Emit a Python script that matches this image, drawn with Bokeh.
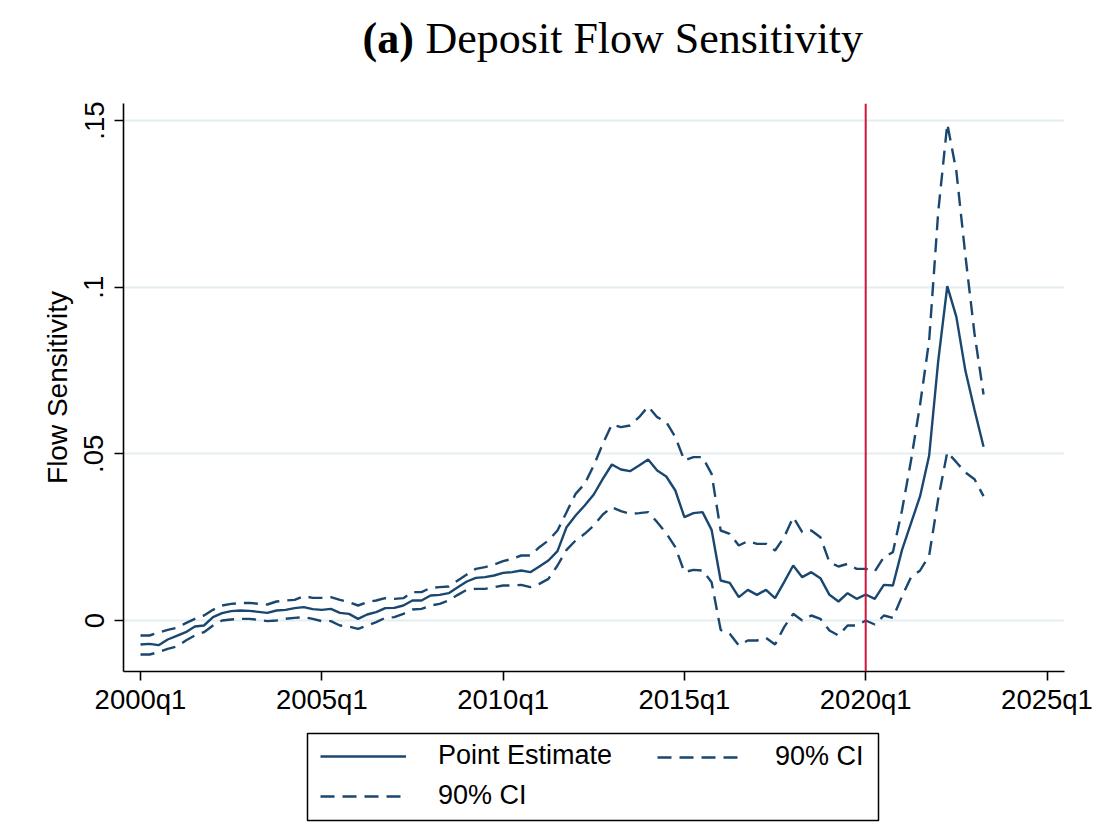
from bokeh.plotting import figure
from bokeh.models import Range1d, Span, Legend, LegendItem, ColumnDataSource, BoxAnnotation
from bokeh.layouts import column
from bokeh.core.properties import value
from bokeh.embed import file_html
from bokeh.resources import INLINE

# quarter index 0 = 2000q1 ... 93 = 2023q2
quarters = list(range(94))

point = [
    -0.0072, -0.0070, -0.0074, -0.0057, -0.0046, -0.0035, -0.0018, -0.0015, 0.0010, 0.0022,
    0.0028, 0.0030, 0.0029, 0.0026, 0.0023, 0.0030, 0.0032, 0.0037, 0.0040, 0.0034,
    0.0032, 0.0035, 0.0023, 0.0020, 0.0005, 0.0018, 0.0025, 0.0037, 0.0038, 0.0045,
    0.0060, 0.0060, 0.0075, 0.0077, 0.0082, 0.0100, 0.0117, 0.0128, 0.0130, 0.0135,
    0.0143, 0.0145, 0.0150, 0.0145, 0.0162, 0.0180, 0.0208, 0.0280, 0.0315, 0.0345,
    0.0378, 0.0425, 0.0468, 0.0453, 0.0448, 0.0465, 0.0483, 0.0450, 0.0432, 0.0390,
    0.0310, 0.0322, 0.0325, 0.0272, 0.0120, 0.0113, 0.0070, 0.0092, 0.0077, 0.0092,
    0.0067, 0.0115, 0.0165, 0.0130, 0.0145, 0.0127, 0.0077, 0.0057, 0.0082, 0.0065,
    0.0078, 0.0065, 0.0107, 0.0105, 0.0211, 0.0292, 0.0373, 0.0495, 0.0779, 0.1003,
    0.0911, 0.0749, 0.0632, 0.0521,
]

upper = [
    -0.0045, -0.0045, -0.0036, -0.0028, -0.0022, -0.0008, 0.0005, 0.0015, 0.0032, 0.0045,
    0.0050, 0.0052, 0.0053, 0.0050, 0.0048, 0.0057, 0.0060, 0.0062, 0.0073, 0.0068,
    0.0068, 0.0070, 0.0062, 0.0055, 0.0045, 0.0055, 0.0060, 0.0067, 0.0065, 0.0067,
    0.0085, 0.0085, 0.0098, 0.0100, 0.0102, 0.0120, 0.0138, 0.0155, 0.0160, 0.0168,
    0.0178, 0.0185, 0.0195, 0.0195, 0.0220, 0.0240, 0.0270, 0.0325, 0.0380, 0.0410,
    0.0465, 0.0530, 0.0588, 0.0580, 0.0585, 0.0610, 0.0642, 0.0610, 0.0595, 0.0550,
    0.0480, 0.0490, 0.0490, 0.0440, 0.0270, 0.0260, 0.0225, 0.0238, 0.0230, 0.0230,
    0.0210, 0.0250, 0.0310, 0.0265, 0.0270, 0.0250, 0.0175, 0.0162, 0.0170, 0.0155,
    0.0155, 0.0147, 0.0190, 0.0205, 0.0330, 0.0480, 0.0648, 0.0840, 0.1226, 0.1490,
    0.1348, 0.1094, 0.0861, 0.0678,
]

lower = [
    -0.0102, -0.0102, -0.0095, -0.0085, -0.0078, -0.0060, -0.0045, -0.0035, -0.0015, 0.0000,
    0.0003, 0.0005, 0.0005, 0.0002, -0.0002, 0.0000, 0.0005, 0.0008, 0.0010, 0.0005,
    -0.0002, -0.0002, -0.0015, -0.0018, -0.0025, -0.0015, -0.0005, 0.0008, 0.0010, 0.0020,
    0.0033, 0.0035, 0.0045, 0.0050, 0.0060, 0.0077, 0.0092, 0.0095, 0.0095, 0.0100,
    0.0105, 0.0105, 0.0107, 0.0100, 0.0110, 0.0125, 0.0165, 0.0212, 0.0240, 0.0260,
    0.0285, 0.0318, 0.0340, 0.0328, 0.0320, 0.0322, 0.0325, 0.0295, 0.0262, 0.0220,
    0.0145, 0.0152, 0.0150, 0.0115, -0.0028, -0.0040, -0.0075, -0.0060, -0.0060, -0.0052,
    -0.0072, -0.0020, 0.0020, 0.0000, 0.0015, 0.0005, -0.0030, -0.0045, -0.0015, -0.0015,
    0.0000, -0.0012, 0.0015, 0.0008, 0.0072, 0.0130, 0.0150, 0.0195, 0.0365, 0.0505,
    0.0475, 0.0444, 0.0424, 0.0373,
]

x_ticks = [0, 20, 40, 60, 80, 100]
x_tick_labels = ["2000q1", "2005q1", "2010q1", "2015q1", "2020q1", "2025q1"]
y_ticks = [0, 0.05, 0.1, 0.15]
y_tick_labels = ["0", ".05", ".1", ".15"]
event_quarter = 80  # 2020q1
title_prefix = "(a)"
title_text = "Deposit Flow Sensitivity"
legend_labels = ["Point Estimate", "90% CI", "90% CI"]

NAVY = "#1a476f"
RED = "#d0163a"
AX_FONT = "Liberation Sans"
W = 1120
LEFT, RIGHT = 123, 56
TITLE_H = 70
MAIN_H = 650
LEG_H = 829 - TITLE_H - MAIN_H
LEG_TOP = TITLE_H + MAIN_H        # canvas y where legend strip starts
DASH = "14 8"
LW = 2.4


def strip(h):
    f = figure(width=W, height=h, output_backend="svg", toolbar_location=None,
               x_range=Range1d(LEFT, W - RIGHT), y_range=Range1d(0, h),
               x_axis_type=None, y_axis_type=None,
               min_border_left=LEFT, min_border_right=RIGHT,
               min_border_top=0, min_border_bottom=0)
    f.outline_line_color = None
    f.grid.visible = False
    return f


# ---- title strip (x in canvas pixels) ----
t = strip(TITLE_H)
t.text(x=[362], y=[TITLE_H - 38], text=[title_prefix], text_font=value("Liberation Serif"),
       text_font_size="44px", text_font_style="bold", text_color="black",
       text_baseline="alphabetic", text_align="left")
t.text(x=[425], y=[TITLE_H - 38], text=[title_text], text_font=value("Liberation Serif"),
       text_font_size="44px", text_color="black",
       text_baseline="alphabetic", text_align="left")

# ---- main chart ----
src = ColumnDataSource(dict(q=quarters, point=point, upper=upper, lower=lower))

p = figure(width=W, height=MAIN_H, output_backend="svg", toolbar_location=None,
           x_range=Range1d(-1.875, 101.93), y_range=Range1d(-0.0153, 0.1551),
           min_border_left=LEFT, min_border_right=RIGHT, min_border_top=103 - TITLE_H,
           min_border_bottom=MAIN_H - (671 - TITLE_H))
p.outline_line_color = None
p.background_fill_color = "white"
p.border_fill_color = "white"

p.xgrid.grid_line_color = None
p.ygrid.grid_line_color = "#e4eef0"
p.ygrid.grid_line_width = 1.8
p.ygrid.ticker = y_ticks

p.line("q", "point", source=src, line_color=NAVY, line_width=LW)
p.line("q", "upper", source=src, line_color=NAVY, line_width=LW, line_dash=DASH)
p.line("q", "lower", source=src, line_color=NAVY, line_width=LW, line_dash=DASH)

p.add_layout(Span(location=event_quarter, dimension="height", line_color=RED, line_width=2))

xa = p.xaxis[0]
xa.ticker = x_ticks
xa.major_label_overrides = {t_: l for t_, l in zip(x_ticks, x_tick_labels)}
ya = p.yaxis[0]
ya.ticker = y_ticks
ya.major_label_overrides = {t_: l for t_, l in zip(y_ticks, y_tick_labels)}
ya.major_label_orientation = "vertical"
ya.axis_label = "Flow Sensitivity"
for ax in (xa, ya):
    ax.axis_line_color = "black"
    ax.axis_line_width = 1.6
    ax.major_tick_line_color = "black"
    ax.major_tick_line_width = 1.6
    ax.major_tick_out = 9
    ax.major_tick_in = 0
    ax.minor_tick_line_color = None
    ax.major_label_text_font = AX_FONT
    ax.major_label_text_font_size = "27.5px"
    ax.major_label_text_color = "black"
    ax.axis_label_text_font = AX_FONT
    ax.axis_label_text_font_size = "28px"
    ax.axis_label_text_font_style = "normal"
    ax.axis_label_text_color = "black"
xa.major_label_standoff = 3
ya.major_label_standoff = 11
ya.axis_label_standoff = 9

# ---- legend strip (x in canvas pixels, y measured up from strip bottom) ----
lg = strip(LEG_H)
# series re-drawn here only to give the legend its line styles (they lie outside this strip's view)
e_pt = lg.line("q", "point", source=src, line_color=NAVY, line_width=LW)
e_up = lg.line("q", "upper", source=src, line_color=NAVY, line_width=LW, line_dash=DASH)
e_lo = lg.line("q", "lower", source=src, line_color=NAVY, line_width=LW, line_dash=DASH)

lg.add_layout(BoxAnnotation(left=307, right=878, bottom=829 - 820, top=829 - 733,
                            fill_alpha=0, line_color="black", line_width=1.5,
                            line_alpha=1.0))

leg_style = dict(margin=0, padding=0, spacing=9, glyph_width=86, glyph_height=30,
                 label_standoff=32, label_text_font=AX_FONT, label_text_font_size="27px",
                 label_text_color="black", border_line_color=None,
                 background_fill_alpha=0.0, orientation="vertical")
leg_a = Legend(items=[LegendItem(label=legend_labels[0], renderers=[e_pt]),
                      LegendItem(label=legend_labels[2], renderers=[e_lo])],
               location=(320 - LEFT, 829 - 811), **leg_style)
leg_b = Legend(items=[LegendItem(label=legend_labels[1], renderers=[e_up])],
               location=(657 - LEFT, 829 - 772), **leg_style)
lg.add_layout(leg_a)
lg.add_layout(leg_b)

layout = column(t, p, lg, spacing=0)
open("out.html", "w").write(file_html(layout, INLINE))
